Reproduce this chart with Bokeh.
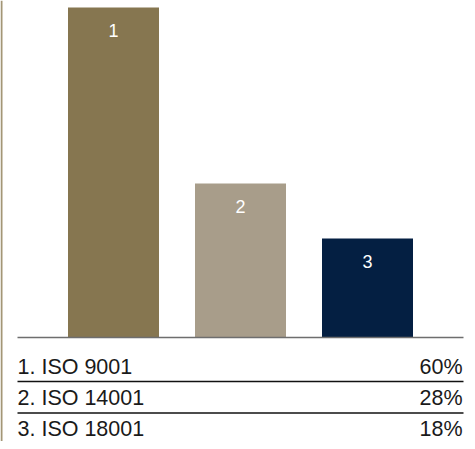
from bokeh.plotting import figure
from bokeh.models import Range1d, ColumnDataSource
from bokeh.core.properties import value
from bokeh.embed import file_html
from bokeh.resources import INLINE

# ---- data ----
ranks = [1, 2, 3]
labels = ["1", "2", "3"]
names = ["1. ISO 9001", "2. ISO 14001", "3. ISO 18001"]
shares = [60, 28, 18]
pct_labels = ["60%", "28%", "18%"]
colors = ["#867650", "#a89d8a", "#041f42"]

# ---- layout (pixels) ----
W, H = 467, 441
PX_PER_UNIT_Y = 5.5       # px per percent
BASE_PY = 337             # baseline y in figure px (from top)
CAT_STEP = 127            # px between bar centers
FIRST_CX = 113            # first bar center in figure px
BAR_W_PX = 91

y_top = BASE_PY / PX_PER_UNIT_Y
y_bot = -(H - BASE_PY) / PX_PER_UNIT_Y
x_left = 1 - FIRST_CX / CAT_STEP
x_right = 1 + (W - FIRST_CX) / CAT_STEP

def py(v_px):  # figure px from top -> y data
    return (BASE_PY - v_px) / PX_PER_UNIT_Y

def px(h_px):  # figure px from left -> x data
    return 1 + (h_px - FIRST_CX) / CAT_STEP

p = figure(width=W, height=H, output_backend="svg", toolbar_location=None,
           x_range=Range1d(x_left, x_right), y_range=Range1d(y_bot, y_top),
           min_border=0, min_border_left=0, min_border_right=0,
           min_border_top=0, min_border_bottom=0)
p.axis.visible = False
p.grid.visible = False
p.outline_line_color = None
p.background_fill_color = "white"
p.border_fill_color = "white"

src = ColumnDataSource(dict(x=ranks, top=shares, color=colors, lab=labels,
                            ly=[s - 23 / PX_PER_UNIT_Y for s in shares]))
p.vbar(x="x", top="top", bottom=0, width=BAR_W_PX / CAT_STEP, color="color",
       line_color=None, source=src)
p.text(x="x", y="ly", text="lab", source=src, text_color="white",
       text_font=value("Liberation Sans"), text_font_size="18px",
       text_align="center", text_baseline="middle")

# baseline
p.segment(x0=[px(17)], x1=[px(463)], y0=[0], y1=[0], line_color="#6e6e6e", line_width=1.5)

# left decorative rule
p.segment(x0=[px(1)], x1=[px(1)], y0=[y_bot], y1=[y_top], line_color="#a39676", line_width=2)

# table rows
row_mid = [366 + 31.2 * i for i in range(3)]
tsrc = ColumnDataSource(dict(name=names, pct=pct_labels,
                             y=[py(r) for r in row_mid],
                             xl=[px(17)] * 3, xr=[px(462)] * 3))
p.text(x="xl", y="y", text="name", source=tsrc, text_color="#1a1a1a",
       text_font=value("Liberation Sans"), text_font_size="21.5px",
       text_align="left", text_baseline="middle")
p.text(x="xr", y="y", text="pct", source=tsrc, text_color="#1a1a1a",
       text_font=value("Liberation Sans"), text_font_size="21.5px",
       text_align="right", text_baseline="middle")
line_y = [py(381), py(412.5)]
p.segment(x0=[px(17)] * 2, x1=[px(463)] * 2, y0=line_y, y1=line_y,
          line_color="#111111", line_width=1.3)

open("out.html", "w").write(file_html(p, INLINE))
